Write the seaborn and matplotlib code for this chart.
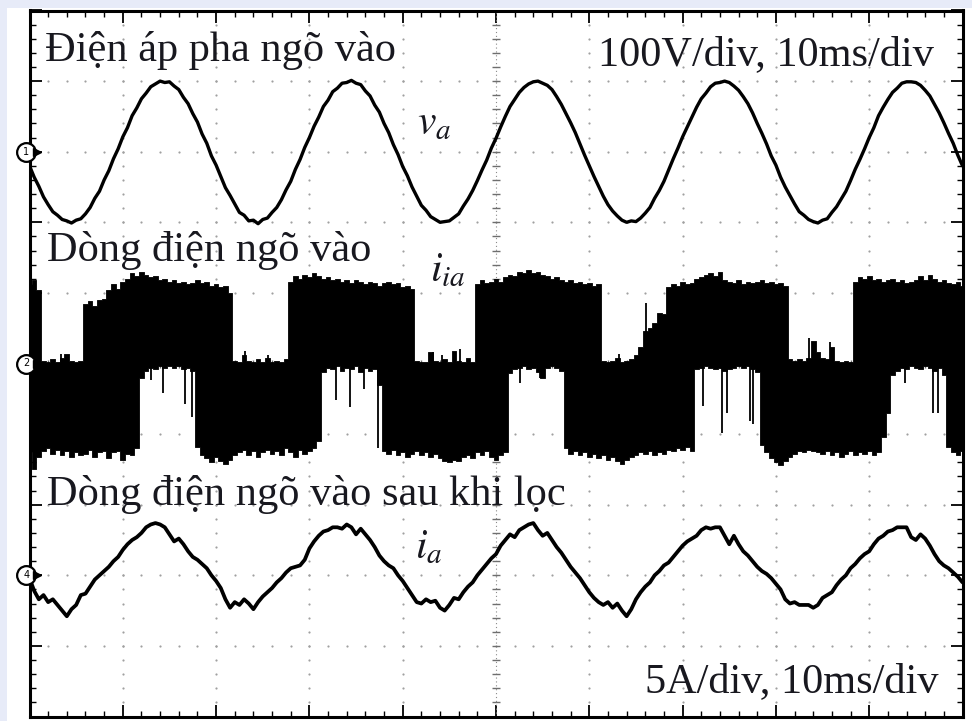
import numpy as np
import matplotlib
matplotlib.use("Agg")
import matplotlib.pyplot as plt
from matplotlib.patches import Rectangle
import seaborn as sns

# ---- capture data -------------------------------------------------------
# time base: 0.5 ms per sample over 10 divisions of 10 ms
t_ms = np.linspace(0.0, 100.0, 201)

# channel 1: input phase voltage v_a (V)
v_a = [
    -20, -36, -49, -64, -75, -85, -90, -96, -98, -101, -97, -95, -88, -79, -66, -56, -40, -27, -10, 4,
    21, 34, 51, 62, 75, 83, 92, 96, 100, 98, 99, 93, 88, 77, 68, 54, 42, 25, 12, -6,
    -19, -35, -51, -62, -74, -86, -90, -98, -97, -102, -96, -94, -86, -79, -68, -54, -42, -25, -11, 6,
    20, 36, 49, 64, 73, 85, 90, 97, 98, 101, 97, 95, 86, 79, 66, 56, 40, 27, 10, -4,
    -21, -34, -50, -63, -76, -83, -92, -96, -100, -99, -98, -93, -88, -77, -67, -55, -41, -26, -12, 5,
    19, 35, 50, 64, 74, 84, 91, 96, 99, 100, 97, 94, 88, 78, 67, 54, 41, 27, 11, -5,
    -20, -35, -49, -63, -75, -84, -91, -97, -100, -98, -99, -94, -87, -79, -66, -55, -42, -26, -10, 5,
    21, 35, 49, 63, 75, 83, 92, 97, 98, 100, 98, 93, 87, 78, 68, 55, 40, 26, 11, -6,
    -19, -36, -50, -62, -74, -85, -90, -96, -99, -101, -97, -95, -86, -78, -67, -56, -41, -25, -11, 4,
    20, 34, 51, 63, 74, 84, 90, 97, 99, 99, 98, 94, 87, 79, 67, 55, 41, 26, 12, -5,
    -20,
]

# channel 4: filtered input current i_a (A)
i_a = [
    -0.2, -1.1, -1.7, -1.4, -1.9, -1.7, -2.1, -2.5, -2.9, -2.4,
    -2.1, -1.4, -1.3, -0.8, -0.3, 0.0, 0.3, 0.6, 1.0, 1.3,
    1.8, 2.2, 2.5, 2.7, 3.0, 3.4, 3.6, 3.7, 3.6, 3.4,
    2.9, 2.4, 2.6, 2.2, 1.7, 1.3, 1.1, 0.8, 0.5, 0.0,
    -0.4, -0.9, -1.7, -2.3, -1.9, -2.1, -1.7, -2.0, -2.4, -1.9,
    -1.5, -1.2, -0.9, -0.5, -0.2, 0.2, 0.5, 0.6, 0.7, 1.1,
    1.9, 2.4, 2.8, 3.1, 3.2, 3.4, 3.4, 3.3, 3.6, 3.4,
    2.9, 3.3, 2.9, 2.5, 2.0, 1.4, 1.0, 0.7, 0.5, 0.0,
    -0.4, -0.9, -1.4, -1.9, -2.0, -1.7, -1.9, -1.8, -2.3, -2.5,
    -2.1, -1.6, -1.7, -1.2, -0.8, -0.5, 0.0, 0.4, 0.8, 1.2,
    1.5, 2.1, 2.5, 2.9, 2.7, 3.2, 3.4, 3.6, 3.7, 3.2,
    2.8, 3.0, 2.5, 2.0, 1.6, 1.1, 0.6, 0.2, -0.2, -0.7,
    -1.2, -1.6, -1.9, -2.1, -1.9, -2.3, -2.0, -2.5, -2.9, -2.4,
    -1.7, -1.2, -0.8, -0.5, 0.0, 0.3, 0.7, 0.9, 1.3, 1.7,
    2.1, 2.4, 2.6, 2.8, 3.2, 3.4, 3.3, 3.4, 3.4, 2.8,
    2.2, 2.8, 2.2, 1.7, 1.4, 1.0, 0.6, 0.3, 0.1, -0.2,
    -0.6, -1.0, -1.7, -2.0, -1.9, -2.1, -2.1, -2.1, -2.3, -2.1,
    -1.6, -1.4, -1.2, -0.7, -0.3, 0.0, 0.5, 0.8, 1.2, 1.5,
    1.7, 2.2, 2.6, 2.8, 3.1, 3.2, 3.4, 3.4, 3.4, 2.7,
    2.5, 2.9, 2.6, 2.1, 1.5, 1.0, 0.7, 0.5, 0.2, -0.1,
    -0.5,
]

# channel 2: unfiltered input current i_ia, upper / lower edge of the switching band (A)
i_ia_upper = [
    5.6, 5.9, 5.2, 0.2, 0.1, 0.3, 0.1, 0.4, 0.7, 0.2,
    0.1, 0.2, 4.2, 4.4, 4.1, 4.5, 4.6, 5.2, 5.6, 5.3,
    5.8, 6.0, 6.4, 6.2, 6.5, 6.3, 6.1, 6.2, 5.9, 6.0,
    5.8, 5.9, 5.7, 5.8, 5.6, 5.7, 5.9, 5.7, 5.8, 5.5,
    5.6, 5.4, 5.5, 5.0, 0.2, 0.1, 0.6, 0.2, 0.1, 0.3,
    0.1, 0.4, 0.1, 0.2, 0.1, 0.3, 5.8, 6.2, 6.0, 6.3,
    6.1, 6.4, 6.2, 6.0, 6.1, 5.9, 6.0, 5.8, 5.9, 5.7,
    5.9, 5.8, 5.6, 5.8, 5.7, 5.5, 5.7, 5.8, 5.6, 5.7,
    5.4, 5.5, 5.3, 0.2, 0.1, 0.1, 0.8, 0.2, 0.1, 0.3,
    0.1, 0.9, 0.2, 0.1, 0.4, 0.1, 5.6, 5.9, 5.7, 5.8,
    6.0, 5.8, 6.1, 6.3, 6.2, 6.5, 6.4, 6.6, 6.4, 6.5,
    6.3, 6.2, 6.0, 6.1, 5.9, 5.8, 5.9, 5.7, 5.8, 5.6,
    5.7, 5.5, 5.6, 0.2, 0.1, 0.2, 0.4, 0.1, 0.2, 0.3,
    0.6, 1.2, 2.3, 2.5, 2.9, 3.6, 3.5, 5.4, 5.6, 5.5,
    5.8, 5.6, 5.7, 6.0, 6.1, 6.3, 6.4, 6.2, 6.5, 5.9,
    5.8, 5.7, 5.9, 5.6, 5.8, 5.7, 5.8, 5.9, 5.7, 5.8,
    5.6, 5.7, 5.5, 0.3, 0.2, 0.3, 0.2, 0.4, 1.6, 0.8,
    0.4, 0.3, 1.2, 0.2, 0.1, 0.2, 0.1, 5.8, 6.1, 6.0,
    6.2, 5.9, 6.0, 5.8, 5.9, 6.0, 5.8, 5.9, 5.7, 5.8,
    5.9, 6.2, 5.9, 6.3, 6.0, 5.8, 5.9, 5.7, 5.6, 5.8,
    5.5,
]
i_ia_lower = [
    -6.3, -7.5, -6.6, -6.2, -6.0, -6.4, -6.1, -6.5, -6.2, -6.6,
    -6.3, -6.5, -6.4, -6.1, -6.6, -6.3, -6.2, -6.7, -6.3, -6.2,
    -6.8, -6.4, -6.5, -6.0, -1.0, -0.5, -0.3, -0.4, -0.2, -0.3,
    -0.2, -0.3, -0.2, -0.4, -0.3, -0.5, -5.9, -6.5, -6.7, -7.0,
    -6.6, -6.9, -7.1, -6.8, -6.5, -6.3, -6.1, -6.5, -6.2, -6.6,
    -6.3, -6.1, -6.4, -6.2, -6.5, -6.0, -6.3, -6.6, -6.1, -6.4,
    -6.2, -6.0, -5.5, -0.6, -0.3, -0.4, -0.2, -0.5, -0.3, -0.4,
    -0.2, -0.6, -0.3, -0.5, -0.4, -1.5, -6.2, -6.4, -6.1, -6.5,
    -6.3, -6.6, -6.4, -6.2, -6.5, -6.3, -6.6, -6.4, -6.7, -6.9,
    -7.0, -6.8, -6.9, -6.6, -6.5, -6.7, -6.3, -6.5, -6.2, -6.6,
    -6.8, -6.5, -6.3, -0.7, -0.4, -0.3, -0.2, -0.4, -0.3, -0.6,
    -1.0, -0.3, -0.2, -0.3, -0.5, -6.0, -6.4, -6.2, -6.5, -6.3,
    -6.6, -6.4, -6.7, -6.5, -6.8, -6.6, -6.9, -7.1, -6.8, -6.6,
    -6.5, -6.3, -6.4, -6.2, -6.5, -6.3, -6.4, -6.1, -6.2, -6.0,
    -6.1, -5.9, -6.2, -0.4, -0.3, -0.2, -0.3, -0.4, -0.3, -0.5,
    -0.4, -0.3, -0.2, -0.3, -0.2, -0.4, -0.6, -5.8, -6.3, -6.7,
    -7.0, -7.2, -6.9, -6.6, -6.4, -6.2, -6.3, -6.1, -6.2, -6.3,
    -6.4, -6.2, -6.5, -6.3, -6.6, -6.4, -6.2, -6.5, -6.3, -6.4,
    -6.2, -6.5, -6.3, -5.2, -3.5, -0.8, -0.5, -0.3, -0.4, -0.2,
    -0.3, -0.4, -0.2, -0.3, -0.5, -0.3, -0.8, -5.9, -6.3, -6.5,
    -6.2,
]

# isolated switching spikes on channel 2 (time in ms, peak in A, drawn from 0 A)
spike_t = [3.4, 4.1, 13.0, 14.3, 16.7, 17.4, 23.1, 25.6, 32.8, 34.4, 35.8, 37.3,
           43.3, 44.2, 46.1, 52.6, 54.7, 63.2, 66.1, 72.2, 74.2, 74.8, 77.2, 77.5,
           83.6, 85.8, 93.8, 96.8, 97.4]
spike_peak = [0.7, 0.6, -1.2, -2.1, -2.9, -3.8, 0.9, 0.6, -2.6, -3.1, -1.8, -6.0,
              0.8, 0.6, 1.0, -1.4, -1.0, 0.7, 4.3, -3.0, -4.9, -3.5, -4.1, -4.3,
              1.8, 1.5, -1.4, -3.5, -3.5]

# scope settings
volts_per_div = 100.0
amps_per_div = 5.0
channel_labels = ["1", "2", "4"]
channel_offsets = [3.0, 0.0, -3.0]   # screen divisions

# ---- convert to screen divisions ---------------------------------------
va_div = channel_offsets[0] + np.asarray(v_a) / volts_per_div
iia_up_div = channel_offsets[1] + np.asarray(i_ia_upper) / amps_per_div
iia_lo_div = channel_offsets[1] + np.asarray(i_ia_lower) / amps_per_div
spike_div = channel_offsets[1] + np.asarray(spike_peak) / amps_per_div
ia_div = channel_offsets[2] + np.asarray(i_a) / amps_per_div

# ---- figure -------------------------------------------------------------
sns.set_theme(style="white")
plt.rcParams["font.family"] = ["Liberation Serif", "DejaVu Serif"]
plt.rcParams["mathtext.fontset"] = "stix"

W, H = 972, 721
fig = plt.figure(figsize=(W / 100, H / 100), dpi=100, facecolor="white")
ax = fig.add_axes([29.5 / W, 1 - 716.5 / H, 933 / W, 706 / H])
ax.set_facecolor("white")
ax.set_xlim(0, 100)
ax.set_ylim(-5, 5)

# light border strips of the screenshot
border = "#E7EBF8"
fig.add_artist(Rectangle((0, 0), 7 / W, 1, transform=fig.transFigure, fc=border, ec="none"))
fig.add_artist(Rectangle((0, 1 - 8 / H), 1, 8 / H, transform=fig.transFigure, fc=border, ec="none"))

# frame and ticks
for s in ax.spines.values():
    s.set_color("black")
    s.set_linewidth(2.2)
ax.set_xticks(np.arange(0, 101, 10))
ax.set_xticks(np.arange(0, 101, 2), minor=True)
ax.set_yticks(np.arange(-5, 6, 1))
ax.set_yticks(np.linspace(-5, 5, 51), minor=True)
ax.tick_params(which="both", direction="in", top=True, right=True, bottom=True, left=True,
               labelbottom=False, labelleft=False, color="black")
ax.tick_params(which="major", length=8.5, width=1.3)
ax.tick_params(which="minor", length=4.5, width=1.0)
ax.grid(False)

# dotted graticule
x_minor = np.arange(2, 100, 2)
y_minor = np.linspace(-4.8, 4.8, 49)
dot_c = "#a0a0a0"
for xv in range(10, 100, 10):
    if xv != 50:
        ax.scatter(np.full(y_minor.size, xv), y_minor, s=2.5, color=dot_c, lw=0, zorder=1)
for yv in range(-4, 5):
    if yv != 0:
        ax.scatter(x_minor, np.full(x_minor.size, yv), s=2.5, color=dot_c, lw=0, zorder=1)

# centre cross with its small tick marks
ax.axvline(50, color="#8a8a8a", lw=0.8, ls=(0, (1, 2.5)), zorder=1)
ax.axhline(0, color="#8a8a8a", lw=0.8, ls=(0, (1, 2.5)), zorder=1)
ax.plot(np.full(y_minor.size, 50), y_minor, ls="none", marker="_", ms=6, mew=1.0,
        color="#6e6e6e", zorder=1)
ax.plot(x_minor, np.zeros(x_minor.size), ls="none", marker="|", ms=6, mew=1.0,
        color="#6e6e6e", zorder=1)

# channel 2: switching band and spikes
ax.fill_between(t_ms, iia_lo_div, iia_up_div, step="mid", color="black", lw=0.6, zorder=3)
ax.vlines(spike_t, channel_offsets[1], spike_div, color="black", lw=1.3, zorder=3)

# channel 1 and channel 4 traces
sns.lineplot(x=t_ms, y=va_div, ax=ax, color="black", lw=2.4, estimator=None, sort=False, zorder=4)
sns.lineplot(x=t_ms, y=ia_div, ax=ax, color="black", lw=2.7, estimator=None, sort=False, zorder=4)

# channel ground markers on the left edge
for lab, off in zip(channel_labels, channel_offsets):
    ax.plot([-0.35], [off], marker="o", ms=13.5, mfc="white", mec="black", mew=1.6,
            clip_on=False, zorder=6)
    ax.text(-0.35, off, lab, fontsize=7, ha="center", va="center", color="black",
            family="DejaVu Sans", zorder=7, clip_on=False)
    ax.plot([0.85], [off], marker=">", ms=5.5, color="black", clip_on=False, zorder=6)

# annotations
txt_c = "#18181f"
fs = 30.5


def px_text(x, y, s, **kw):
    ax.text((x - 29.5) / 933, (716.5 - y) / 706, s, transform=ax.transAxes,
            va="baseline", color=txt_c, zorder=8, **kw)


px_text(45, 61, "Điện áp pha ngõ vào", fontsize=fs)
px_text(934, 65, "100V/div, 10ms/div", fontsize=fs, ha="right")
px_text(47, 261, "Dòng điện ngõ vào", fontsize=fs)
px_text(47, 505, "Dòng điện ngõ vào sau khi lọc", fontsize=fs)
px_text(938, 692, "5A/div, 10ms/div", fontsize=fs, ha="right")
px_text(417, 134, r"$v_a$", fontsize=30)
px_text(430, 281, r"$i_{ia}$", fontsize=30)
px_text(415, 558, r"$i_a$", fontsize=30)

fig.savefig("out.png", dpi=100, facecolor=fig.get_facecolor())
